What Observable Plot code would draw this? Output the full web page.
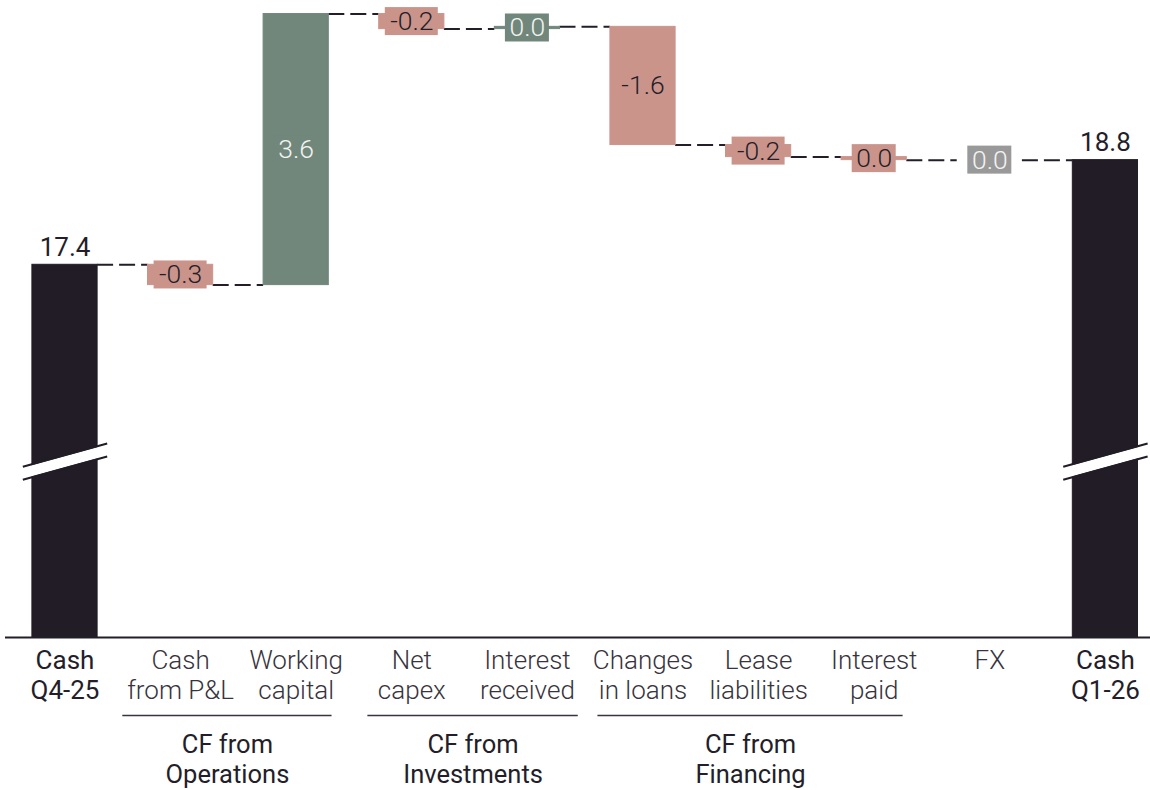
<!DOCTYPE html>
<html>
<head>
<meta charset="utf-8">
<script src="https://cdn.jsdelivr.net/npm/d3@7"></script>
<script src="https://cdn.jsdelivr.net/npm/@observablehq/plot@0.6"></script>
<style>
  html, body { margin: 0; padding: 0; background: #ffffff; }
  #chart svg { display: block; }
</style>
</head>
<body>
<div id="chart"></div>
<script>
// ---- Data (EUR bn) ----
const categories = [
  "Cash\nQ4-25", "Cash\nfrom P&L", "Working\ncapital", "Net\ncapex", "Interest\nreceived",
  "Changes\nin loans", "Lease\nliabilities", "Interest\npaid", "FX", "Cash\nQ1-26"
];
const startCash = 17.4;
// cash-flow items, one per category between the two cash positions
const changes = [-0.27, 3.60, -0.20, 0.03, -1.57, -0.16, -0.04, 0.00];
const endCash = 18.79;
const groupLabels = ["CF from\nOperations", "CF from\nInvestments", "CF from\nFinancing"];
const groupFirst = [1, 3, 5];
const groupLast = [2, 4, 7];

// ---- Styling ----
const C = {
  total: "#211c26",
  up: "#71877b",
  down: "#cb948b",
  flat: "#999999",
  ink: "#231e29",
  light: "#f2f4f2",
  tick: "#38333d"
};
const font = "Roboto, 'Liberation Sans', Arial, sans-serif";
const yMin = 12.45, yMax = 20.91;   // broken value axis
const half = 0.282;                 // half bar width, in category steps
const fmt = v => { const s = v.toFixed(1); return s === "-0.0" ? "0.0" : s; };

// ---- Waterfall rows ----
const rows = [];
let level = startCash;
rows.push({i: 0, kind: "total", y1: yMin, y2: startCash, value: startCash, label: fmt(startCash)});
changes.forEach((v, k) => {
  const before = level;
  level = before + v;
  rows.push({
    i: k + 1, kind: v > 0 ? "up" : v < 0 ? "down" : "flat",
    y1: before, y2: level, mid: (before + level) / 2, value: v, label: fmt(v)
  });
});
rows.push({i: categories.length - 1, kind: "total", y1: yMin, y2: endCash, value: endCash, label: fmt(endCash)});

const totals = rows.filter(d => d.kind === "total");
const steps = rows.filter(d => d.kind !== "total");
const connectors = rows.slice(0, -1).map(d => ({from: d.i, to: d.i + 1, y: d.y2}));
const textColor = d => d.kind === "down" ? C.ink : C.light;

// group brackets under the category labels, in category steps
const groupExtents = [[0.50, 2.31], [2.62, 4.44], [4.61, 7.25]];
const groups = groupLabels.map((label, g) => ({
  label, x1: groupExtents[g][0], x2: groupExtents[g][1],
  xc: (groupExtents[g][0] + groupExtents[g][1]) / 2,
  first: groupFirst[g], last: groupLast[g]
}));

const axisBreak = 14.786, breakSlope = 0.154;
const catRows = categories.map((c, i) => ({i, text: c, total: i === 0 || i === categories.length - 1}));

const chart = Plot.plot({
  width: 1150,
  height: 790,
  marginTop: 0,
  marginBottom: 153,
  marginLeft: 5,
  marginRight: 0,
  style: {fontFamily: font, background: "#ffffff"},
  x: {domain: [-0.5147, 9.39], axis: null},
  y: {domain: [yMin, yMax], axis: null},
  color: {type: "identity"},
  marks: [
    // dashed connectors between consecutive bars
    Plot.ruleY(connectors, {
      y: "y", x1: d => d.from + half, x2: d => d.to - half,
      stroke: C.ink, strokeWidth: 2, strokeDasharray: "16,6"
    }),
    // bars
    Plot.rectY(rows, {
      x1: d => d.i - half, x2: d => d.i + half, y1: "y1", y2: "y2",
      fill: d => C[d.kind], stroke: d => C[d.kind], strokeWidth: 1
    }),
    // axis break on the two cash bars
    Plot.link(totals, {
      x1: d => d.i - 0.365, x2: d => d.i + 0.365,
      y1: axisBreak - breakSlope, y2: axisBreak + breakSlope,
      stroke: "#ffffff", strokeWidth: 11
    }),
    Plot.link(totals, {
      x1: d => d.i - 0.365, x2: d => d.i + 0.365,
      y1: axisBreak - breakSlope, y2: axisBreak + breakSlope,
      stroke: C.total, strokeWidth: 2, dy: -6.5
    }),
    Plot.link(totals, {
      x1: d => d.i - 0.365, x2: d => d.i + 0.365,
      y1: axisBreak - breakSlope, y2: axisBreak + breakSlope,
      stroke: C.total, strokeWidth: 2, dy: 6.5
    }),
    // label plates for the cash-flow items
    Plot.rect(steps.filter(d => d.label.length <= 3), {
      x1: "i", x2: "i", y1: "mid", y2: "mid", fill: d => C[d.kind],
      insetLeft: -22, insetRight: -22, insetTop: -14, insetBottom: -14
    }),
    Plot.rect(steps.filter(d => d.label.length > 3), {
      x1: "i", x2: "i", y1: "mid", y2: "mid", fill: d => C[d.kind],
      insetLeft: -26.5, insetRight: -26.5, insetTop: -14, insetBottom: -14
    }),
    Plot.text(steps, {
      x: "i", y: "mid", text: "label", fill: textColor,
      fontSize: 26.5, fontWeight: 300, lineAnchor: "middle"
    }),
    // cash position values
    Plot.text(totals, {
      x: "i", y: "y2", text: "label", fill: C.ink,
      fontSize: 26, fontWeight: 400, lineAnchor: "bottom", dy: -9
    }),
    // baseline
    Plot.ruleY([yMin], {stroke: C.ink, strokeWidth: 2}),
    // category labels
    Plot.text(catRows.filter(d => !d.total), {
      x: "i", text: "text", frameAnchor: "bottom", lineAnchor: "top", dy: 11,
      lineHeight: 1.13, fontSize: 26, fontWeight: 300, fill: C.tick
    }),
    Plot.text(catRows.filter(d => d.total), {
      x: "i", text: "text", frameAnchor: "bottom", lineAnchor: "top", dy: 11,
      lineHeight: 1.13, fontSize: 26, fontWeight: 400, fill: C.ink
    }),
    // cash-flow groups
    Plot.ruleY(groups, {
      y: () => yMin, x1: "x1", x2: "x2", dy: 78, stroke: C.tick, strokeWidth: 1.5
    }),
    Plot.text(groups, {
      x: "xc", text: "label", frameAnchor: "bottom", lineAnchor: "top", dy: 94,
      lineHeight: 1.17, fontSize: 25.5, fontWeight: 400, fill: C.ink
    })
  ]
});

document.getElementById("chart").append(chart);
</script>
</body>
</html>
